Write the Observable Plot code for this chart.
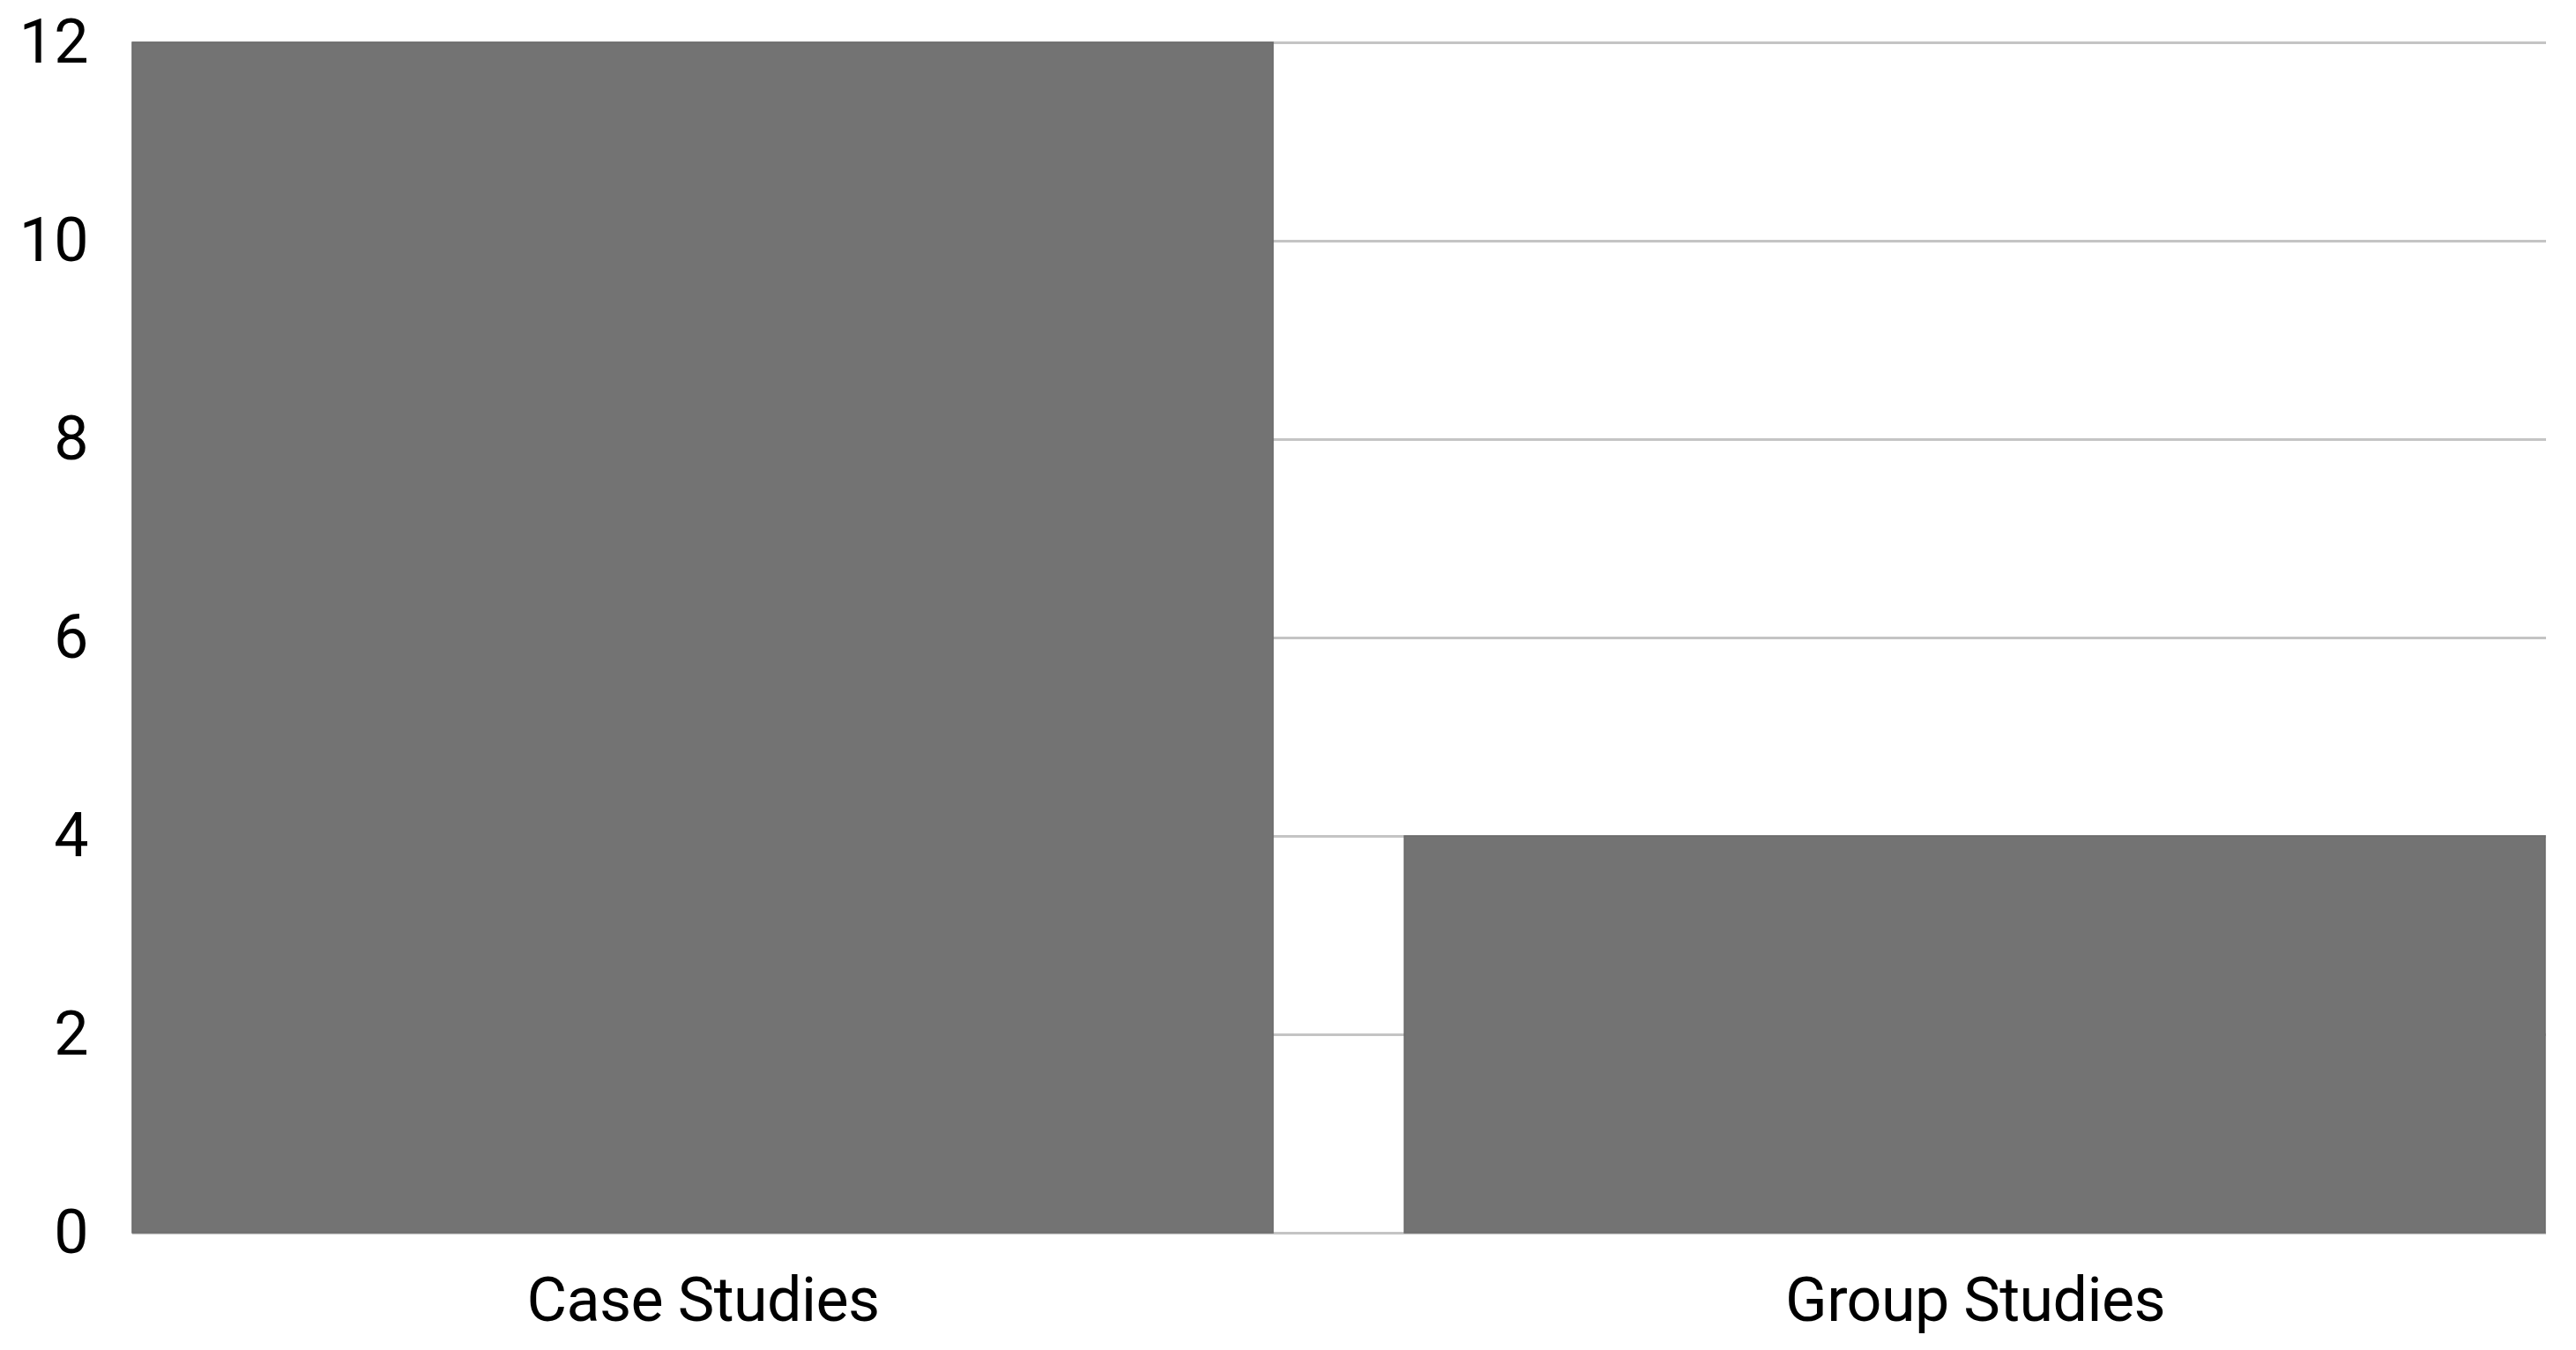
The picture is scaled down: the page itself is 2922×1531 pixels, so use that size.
<!DOCTYPE html>
<html>
<head>
<meta charset="utf-8">
<script src="https://cdn.jsdelivr.net/npm/d3@7"></script>
<script src="https://cdn.jsdelivr.net/npm/@observablehq/plot@0.6"></script>
<style>
  html, body { margin: 0; padding: 0; background: #fff; }
  .xax text { letter-spacing: -0.6px; }
</style>
</head>
<body>
<div id="chart"></div>
<script>
const categories = ["Case Studies", "Group Studies"];
const values = [12, 4];
const yTicks = [0, 2, 4, 6, 8, 10, 12];

const data = categories.map((c, i) => ({category: c, value: values[i]}));

const chart = Plot.plot({
  width: 2922,
  height: 1531,
  marginLeft: 150,
  marginRight: 34,
  marginTop: 48,
  marginBottom: 133,
  style: {fontFamily: "Roboto, sans-serif", fontSize: "70px", color: "#000", background: "#fff"},
  x: {domain: categories, paddingInner: 0.103, paddingOuter: 0, label: null},
  y: {domain: [0, 12], ticks: yTicks, label: null},
  marks: [
    Plot.ruleY(yTicks, {stroke: "#c4c4c4", strokeWidth: 3}),
    Plot.barY(data, {x: "category", y: "value", fill: "#737373", stroke: "#6a6a6a", strokeWidth: 1.5}),
    Plot.ruleY([0], {x1: categories[0], stroke: "#666666", strokeWidth: 2}),
    Plot.axisY({ticks: yTicks, tickSize: 0, tickPadding: 50, tickFormat: d => String(d), fill: "#000"}),
    Plot.axisX({tickSize: 0, tickPadding: 50, fill: "#000", className: "xax"})
  ]
});
document.getElementById("chart").appendChild(chart);
</script>
</body>
</html>
